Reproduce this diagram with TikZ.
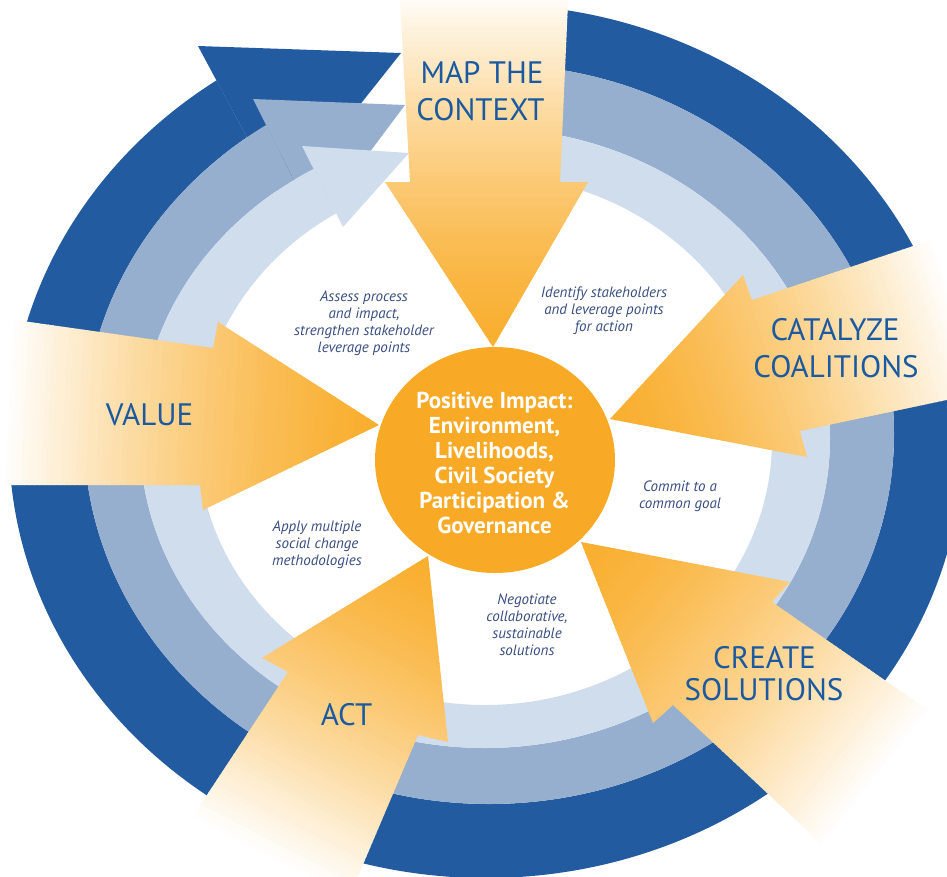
\documentclass[tikz,border=0pt]{standalone}
\usepackage{fontspec}
\setmainfont{PT Sans}
\definecolor{bdark}{RGB}{35,91,160}
\definecolor{bmed}{RGB}{150,175,207}
\definecolor{blight}{RGB}{208,221,237}
\definecolor{orA}{RGB}{249,174,46}
\definecolor{orC}{RGB}{248,170,38}
\definecolor{tblue}{RGB}{27,89,160}
\definecolor{islate}{RGB}{58,78,130}
\tikzset{
  title/.style={text=tblue, font=\fontsize{31}{37}\selectfont, inner sep=0pt, anchor=base},
  note/.style={text=islate, font=\itshape\fontsize{15}{17}\selectfont, align=center, inner sep=0pt},
  core/.style={text=white, font=\bfseries\fontsize{23}{25}\selectfont, align=center, inner sep=0pt},
}
\newcommand{\fadestrips}[1]{%
  \foreach \s in {0,5,...,480}{%
    \pgfmathtruncatemacro\pct{max(0,100*(1-pow(min(max(\s+2.5,1)/#1,1),1.4)))}%
    \fill[orA!\pct!white] (\s,-500) -- ({\s+6},-500) -- ({\s+6},500) -- (\s,500) -- cycle;
  }}
\begin{document}
\begin{tikzpicture}[x=1pt,y=-1pt]
\useasboundingbox (0,0) rectangle (947,876);
\fill[white] (0,0) rectangle (947,876);
\begin{scope}
\clip (0,0) rectangle (947,876);

% ---- dark band
\begin{scope}
\clip (363,355) -- (140,-63) -- (-100,-100) -- (-100,1000) -- (1100,1000) -- (1100,-100) -- (480,-100) -- (480,355) -- cycle;
\fill[bdark, even odd rule] (486,441) ellipse [x radius=477pt, y radius=437pt] (489,434) ellipse [x radius=405pt, y radius=370pt];
\end{scope}
\fill[bdark] (198,46) -- (401,53) -- (282,203) -- cycle;

% ---- medium band
\begin{scope}
\clip (387,367) -- (173,-62) -- (-100,-100) -- (-100,1000) -- (1100,1000) -- (1100,-100) -- (480,-100) -- (480,367) -- cycle;
\fill[bmed, even odd rule] (489,434) ellipse [x radius=405pt, y radius=370pt] (485,438) ellipse [x radius=345pt, y radius=310pt];
\end{scope}
\fill[bmed] (253,99) -- (405,105) -- (316,224) -- cycle;

% ---- light band
\begin{scope}
\clip (415,369) -- (200,-56) -- (-100,-100) -- (-100,1000) -- (1100,1000) -- (1100,-100) -- (480,-100) -- (480,369) -- cycle;
\fill[blight, even odd rule] (485,438) ellipse [x radius=345pt, y radius=310pt] (485,440) ellipse [x radius=287pt, y radius=265pt];
\end{scope}
\fill[blight] (302,146) -- (409,153) -- (343,227) -- cycle;

% ---- MAP THE CONTEXT arrow
\begin{scope}
\clip (493,347) -- (385,182) -- (410,182) -- (399,-20) -- (569,-20) -- (560,182) -- (588,182) -- cycle;
\begin{scope}[shift={(493,347)}, x={(0pt,1pt)}, y={(1pt,0pt)}]
\fadestrips{360}
\end{scope}
\end{scope}

% ---- CATALYZE COALITIONS arrow
\begin{scope}
\clip (610,419) -- (743,275) -- (752,300) -- (970,227) -- (970,395) -- (800,431) -- (807,457) -- cycle;
\begin{scope}[shift={(610,419)}, x={(0.9507pt,0.3102pt)}, y={(-0.3102pt,0.9507pt)}]
\fadestrips{365}
\end{scope}
\end{scope}

% ---- CREATE SOLUTIONS arrow
\begin{scope}
\clip (581,542) -- (790,582) -- (772,602) -- (1101,830) -- (965,978) -- (673,705) -- (653,723) -- cycle;
\begin{scope}[shift={(581,542)}, x={(0.786pt,-0.619pt)}, y={(0.619pt,0.786pt)}]
\fadestrips{380}
\end{scope}
\end{scope}

% ---- ACT arrow
\begin{scope}
\clip (428,556) -- (448,742) -- (418,735) -- (350,895) -- (141,895) -- (288,672) -- (262,658) -- cycle;
\begin{scope}[shift={(428,556)}, x={(-0.457pt,-0.889pt)}, y={(0.889pt,-0.457pt)}]
\fadestrips{340}
\end{scope}
\end{scope}

% ---- VALUE arrow
\begin{scope}
\clip (379,425) -- (218,322) -- (213,348) -- (-20,315) -- (-20,485) -- (200,485) -- (203,510) -- cycle;
\begin{scope}[shift={(379,425)}, x={(-0.9986pt,0.053pt)}, y={(-0.053pt,-0.9986pt)}]
\fadestrips{375}
\end{scope}
\end{scope}

% ---- centre
\fill[orC] (495,460) ellipse [x radius=120pt, y radius=113pt];
\end{scope}

\node[core] (core) at (494.5,463) {Positive Impact:\\Environment,\\Livelihoods,\\Civil Society\\Participation \&\\Governance};

\node[title] (map1) at (482,83) {MAP THE};
\node[title] (map2) at (480.5,120) {CONTEXT};
\node[title] (cat1) at (835,340) {CATALYZE};
\node[title] (cat2) at (836,377) {COALITIONS};
\node[title] (val) at (149.5,425) {VALUE};
\node[title] (act) at (346.5,725) {ACT};
\node[title] (cre1) at (764.5,668) {CREATE};
\node[title] (cre2) at (764,700) {SOLUTIONS};

\node[note] (assess) at (364,323.6) {Assess process\\and impact,\\strengthen stakeholder\\leverage points};
\node[note] (identify) at (604,310.8) {Identify stakeholders\\and leverage points\\for action};
\node[note] (commit) at (680,496.5) {Commit to a\\common goal};
\node[note] (negot) at (527,624.8) {Negotiate\\collaborative,\\sustainable\\solutions};
\node[note] (apply) at (317,545) {Apply multiple\\social change\\methodologies};
\end{tikzpicture}
\end{document}
